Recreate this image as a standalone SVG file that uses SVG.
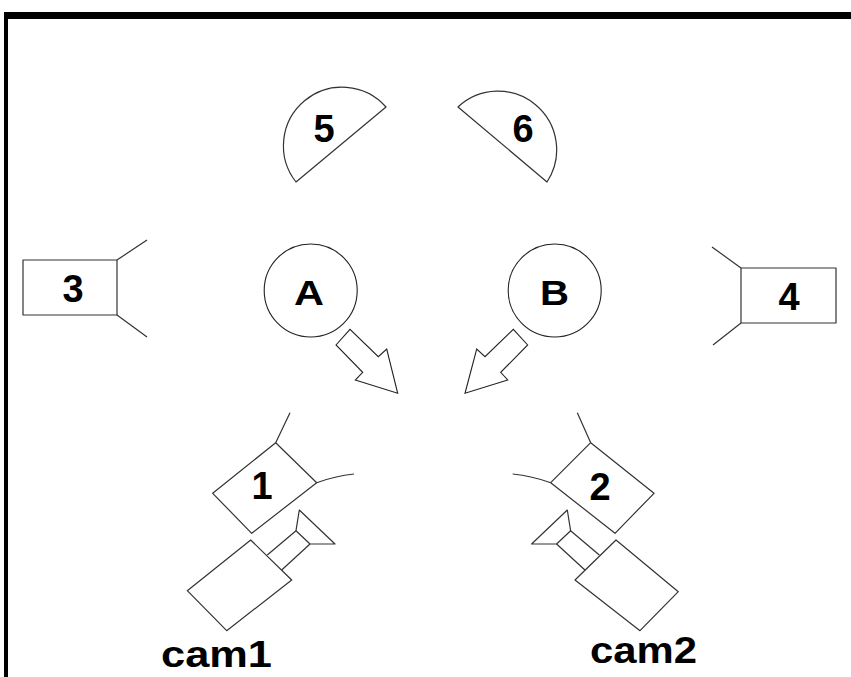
<svg xmlns="http://www.w3.org/2000/svg" width="851" height="677" viewBox="0 0 851 677">
  <style>
    .ln { fill: none; stroke: #333; stroke-width: 1.2; stroke-linejoin: round; }
    .sh { fill: #fff; stroke: #333; stroke-width: 1.2; stroke-linejoin: round; }
    .sol { fill: #fff; stroke: #222; stroke-width: 1.1; }
    .num { font-family: "Liberation Sans", Arial, sans-serif; font-weight: bold; font-size: 38px; fill: #000; text-anchor: middle; }
    .let { font-family: "Liberation Sans", Arial, sans-serif; font-weight: bold; font-size: 35px; fill: #000; }
    .cam { font-family: "Liberation Sans", Arial, sans-serif; font-weight: bold; font-size: 36px; fill: #000; }
  </style>
  <rect width="851" height="677" fill="#fff"/>

  <!-- frame -->
  <g id="frame" fill="#000">
    <rect x="4" y="12" width="847" height="7"/>
    <rect x="4" y="12" width="4" height="665"/>
  </g>

  <!-- half-disc lights -->
  <g id="n5">
    <path class="sh" d="M386,107 A58.6,58.6 0 0 0 296,182 Z"/>
    <text class="num" x="324" y="142">5</text>
  </g>
  <g id="n6">
    <path class="sh" d="M458,107 A58.6,58.6 0 0 1 547,182 Z"/>
    <text class="num" x="523" y="142">6</text>
  </g>

  <!-- side lights -->
  <g id="n3">
    <rect class="sh" x="23" y="260" width="94" height="55"/>
    <path class="ln" d="M117,260 L147,240 M117,315 L147,337"/>
    <text class="num" x="73" y="302">3</text>
  </g>
  <g id="n4">
    <rect class="sh" x="741" y="268" width="95" height="55"/>
    <path class="ln" d="M741,268 L712,247 M741,323 L713,345"/>
    <text class="num" x="789" y="310">4</text>
  </g>

  <!-- subjects -->
  <g id="nA">
    <circle class="sol" cx="310.7" cy="290.5" r="46.5"/>
    <text class="let" x="294" y="305" textLength="30" lengthAdjust="spacingAndGlyphs">A</text>
  </g>
  <g id="nB">
    <circle class="sol" cx="554.7" cy="290.5" r="46.5"/>
    <text class="let" x="540" y="305" textLength="29" lengthAdjust="spacingAndGlyphs">B</text>
  </g>

  <!-- cameras -->
  <g id="cam1">
    <polygon class="sh" points="275.7,442.7 316.7,482.7 251.7,533.3 212.7,493.3"/>
    <path class="ln" d="M275.7,442.7 L290,412.7 M316.7,482.7 Q335,476 354,474"/>
    <polygon class="sh" points="250.7,540 291.7,580 226.7,630.7 187.3,590.7"/>
    <path class="ln" d="M267.3,555 L296,530.7 M281.7,570 L310,544"/>
    <polygon class="sh" points="296,530.7 299.3,510 335,544 310,544"/>
    <text class="num" x="262" y="499">1</text>
    <text class="cam" x="161" y="667" textLength="111" lengthAdjust="spacingAndGlyphs">cam1</text>
  </g>
  <g id="cam2">
    <polygon class="sh" points="590.7,442.7 654,493.3 615,533.3 550.7,482.7"/>
    <path class="ln" d="M590.7,442.7 L577.3,412.7 M550.7,482.7 Q532,476 512.7,474"/>
    <polygon class="sh" points="616,540 678.3,591.7 640,630.7 575,580"/>
    <path class="ln" d="M599.3,555 L570.6,530.7 M584.9,570 L556.6,544"/>
    <polygon class="sh" points="570.6,530.7 567.3,510 531.6,544 556.6,544"/>
    <text class="num" x="600" y="500">2</text>
    <text class="cam" x="590" y="663" textLength="107" lengthAdjust="spacingAndGlyphs">cam2</text>
  </g>

  <!-- connectors: direction arrows -->
  <g id="connectors">
    <polygon class="sol" points="336,345 350,329.3 378.3,356.7 386.7,349 397.7,393.3 355.3,380 362.7,372.3"/>
    <polygon class="sol" points="527.7,345 513.3,329.3 485,356.7 476.7,349 465,393.3 507.7,380 500.7,372.3"/>
  </g>
</svg>
